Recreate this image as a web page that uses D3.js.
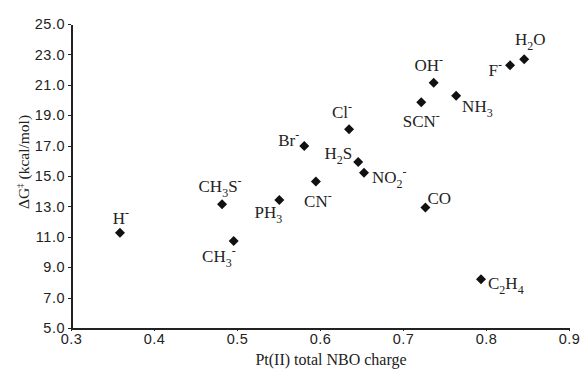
<!DOCTYPE html>
<html lang="en">
<head>
  <meta charset="UTF-8">
  <title>Pt(II) NBO charge vs barrier</title>
  <script src="https://d3js.org/d3.v7.min.js"></script>
  <style>
    body { margin: 0; background: #fff; }
    .axis text { font: 14.5px "Liberation Sans", Arial, sans-serif; fill: #222; letter-spacing: 0.5px; }
    .axis path, .axis line { stroke: #222; shape-rendering: crispEdges; }
    .axis path { stroke-width: 2px; }
    .lbl, .title { font-family: "Liberation Serif", "Times New Roman", serif; fill: #222; }
  </style>
</head>
<body>
  <div id="chart"></div>
  <script>
    // ligand labels (_x = subscript, ^x = superscript)
    var ligands = ["H^-", "CH_3S^-", "CH_3^-", "PH_3", "CN^-", "Br^-", "Cl^-", "H_2S",
      "NO_2^-", "CO", "C_2H_4", "SCN^-", "OH^-", "NH_3", "F^-", "H_2O"];
    // Pt(II) total NBO charge
    var charge = [0.359, 0.482, 0.496, 0.551, 0.595, 0.581, 0.635, 0.646,
      0.653, 0.727, 0.794, 0.722, 0.737, 0.764, 0.829, 0.846];
    // activation free energy, kcal/mol
    var dG = [11.27, 13.14, 10.72, 13.42, 14.63, 16.97, 18.07, 15.92,
      15.22, 12.92, 8.2, 19.85, 21.14, 20.28, 22.28, 22.68];
    var xTicks = [0.3, 0.4, 0.5, 0.6, 0.7, 0.8, 0.9];
    var yTicks = [5, 7, 9, 11, 13, 15, 17, 19, 21, 23, 25];

    // label placement relative to each marker: [dx, dy, anchor]
    var labelPos = [[1, -9, "middle"], [-2, -12, "middle"], [2, 21, "end"], [-11, 18, "middle"],
      [2, 25, "middle"], [-5, 0, "end"], [-7, -11, "middle"], [-6, -3, "end"],
      [8, 10, "start"], [2, -4, "start"], [7, 10, "start"], [0, 25, "middle"],
      [-5, -12, "middle"], [6, 16, "start"], [-8, 11, "end"], [6, -14, "middle"]];

    var margin = { top: 24, right: 13, bottom: 43, left: 71 },
      width = 582 - margin.left - margin.right,
      height = 371 - margin.top - margin.bottom;

    var svg = d3.select("#chart").append("svg")
      .attr("width", 582)
      .attr("height", 371);

    var g = svg.append("g")
      .attr("transform", "translate(" + margin.left + "," + margin.top + ")");

    var x = d3.scaleLinear().domain([0.3, 0.9]).range([0, width]);
    var y = d3.scaleLinear().domain([5, 25]).range([height, 0]);

    g.append("g")
      .attr("class", "x axis")
      .attr("transform", "translate(0," + height + ")")
      .call(d3.axisBottom(x).tickValues(xTicks).tickFormat(d3.format(".1f")).tickSize(3).tickSizeOuter(0).tickPadding(3));

    g.append("g")
      .attr("class", "y axis")
      .call(d3.axisLeft(y).tickValues(yTicks).tickFormat(d3.format(".1f")).tickSize(3).tickSizeOuter(0).tickPadding(3));

    var data = ligands.map(function (name, i) {
      return { name: name, x: charge[i], y: dG[i], pos: labelPos[i] };
    });

    var sym = d3.symbol().type(d3.symbolSquare).size(50);

    g.selectAll(".pt")
      .data(data)
      .enter().append("path")
      .attr("class", "pt")
      .attr("d", sym)
      .attr("fill", "#111")
      .attr("transform", function (d) {
        return "translate(" + x(d.x) + "," + y(d.y) + ") rotate(45)";
      });

    // write formula with sub/superscripts as tspans
    function formula(sel, str) {
      var shift = 0;
      str.replace(/([_^])(.)|([^_^])/g, function (m, mark, ch, plain) {
        var t = sel.append("tspan");
        var target = mark === "_" ? 5 : mark === "^" ? -7 : 0;
        t.attr("dy", target - shift).text(mark ? ch : plain);
        if (mark) t.style("font-size", "12px");
        shift = target;
        return m;
      });
    }

    g.selectAll(".lbl")
      .data(data)
      .enter().append("text")
      .attr("class", "lbl")
      .attr("x", function (d) { return x(d.x) + d.pos[0]; })
      .attr("y", function (d) { return y(d.y) + d.pos[1]; })
      .attr("text-anchor", function (d) { return d.pos[2]; })
      .style("font-size", "17px")
      .each(function (d) { formula(d3.select(this), d.name); });

    svg.append("text")
      .attr("class", "title")
      .attr("x", 331)
      .attr("y", 365)
      .attr("text-anchor", "middle")
      .style("font-size", "16px")
      .text("Pt(II) total NBO charge");

    var yt = svg.append("text")
      .attr("class", "title")
      .attr("transform", "translate(29,162) rotate(-90)")
      .attr("text-anchor", "middle")
      .style("font-size", "15.5px");
    yt.append("tspan").text("ΔG");
    yt.append("tspan").attr("dy", -6).style("font-size", "9px").text("‡");
    yt.append("tspan").attr("dy", 6).text(" (kcal/mol)");
  </script>
</body>
</html>
